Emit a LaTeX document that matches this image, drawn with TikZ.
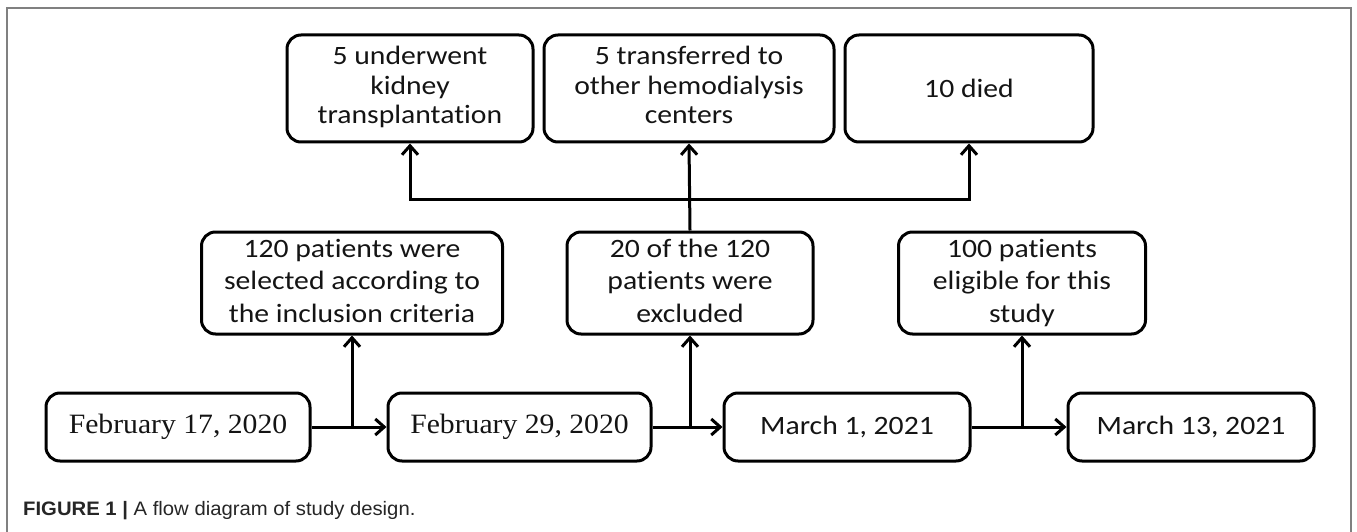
\documentclass[tikz,border=0pt]{standalone}
\usepackage{fontspec}
\setmainfont{Carlito}
\newfontfamily\calfont[FakeStretch=1.12, Ligatures=NoCommon]{Carlito}
\newfontfamily\tmsfont[FakeStretch=1.06]{Liberation Serif}
\newfontfamily\capfont[FakeStretch=1.04]{Liberation Sans}
\usetikzlibrary{arrows.meta}
\begin{document}
\begin{tikzpicture}[x=1pt,y=-1pt,
  box/.style={draw=black, line width=3pt, rounded corners=14pt, inner sep=0pt, align=center, text=black!92},
  toprow/.style={box, minimum height=107pt, font=\calfont\fontsize{26.5}{29.5}\selectfont},
  midrow/.style={box, minimum height=102pt, font=\calfont\fontsize{26.5}{32.5}\selectfont},
  daterow/.style={box, minimum height=68pt, minimum width=246pt},
  serifdate/.style={font=\tmsfont\fontsize{28}{30}\selectfont},
  sansdate/.style={font=\calfont\fontsize{26.5}{30}\selectfont},
  conn/.style={line width=3pt},
  arr/.style={conn, -{Straight Barb[length=9pt,width=16pt]}},
  frame/.style={draw=black!50, line width=1.5pt},
]
\useasboundingbox (0,0) rectangle (1357,532);
\draw[frame] (7,532) -- (7,8) -- (1351,8) -- (1351,532);

% top row
\node[toprow, minimum width=246pt] (b1) at (410,88.5) {\strut 5 underwent\\kidney\\transplantation\strut};
\node[toprow, minimum width=290pt] (b2) at (689,88.5) {\strut 5 transferred to\\other hemodialysis\\centers\strut};
\node[toprow, minimum width=248pt] (b3) at (969,88.5) {10 died};

% middle row
\node[midrow, minimum width=301pt] (m1) at (352,283) {\strut 120 patients were\\selected according to\\the inclusion criteria\strut};
\node[midrow, minimum width=246pt] (m2) at (690,283) {\strut 20 of the 120\\patients were\\excluded\strut};
\node[midrow, minimum width=247pt] (m3) at (1022,283) {\strut 100 patients\\eligible for this\\study\strut};

% date row
\node[daterow, serifdate, minimum width=264pt] (d1) at (178,427) {February 17, 2020};
\node[daterow, serifdate, minimum width=263pt] (d2) at (519.5,427) {February 29, 2020};
\node[daterow, sansdate] (d3) at (847,427) {March 1, 2021};
\node[daterow, sansdate] (d4) at (1191,427) {March 13, 2021};

% timeline arrows
\draw[arr] (d1) -- (d2);
\draw[arr] (d2) -- (d3);
\draw[arr] (d3) -- (d4);
\draw[arr] (d1.east -| m1.south) -- (m1.south);
\draw[arr] (d2.east -| m2.south) -- (m2.south);
\draw[arr] (d3.east -| m3.south) -- (m3.south);

% exclusion branches
\coordinate (hl) at (0,199);
\draw[arr] (m2.north) -- (b2.south);
\draw[arr] (m2.north |- hl) -| (b1.south);
\draw[arr] (m2.north |- hl) -| (b3.south);

% caption
\node[anchor=base west, inner sep=0pt, font=\capfont\fontsize{19.5}{22}\selectfont, text=black!85] (cap) at (23,515) {\textbf{FIGURE 1 |} A flow diagram of study design.};
\end{tikzpicture}
\end{document}
